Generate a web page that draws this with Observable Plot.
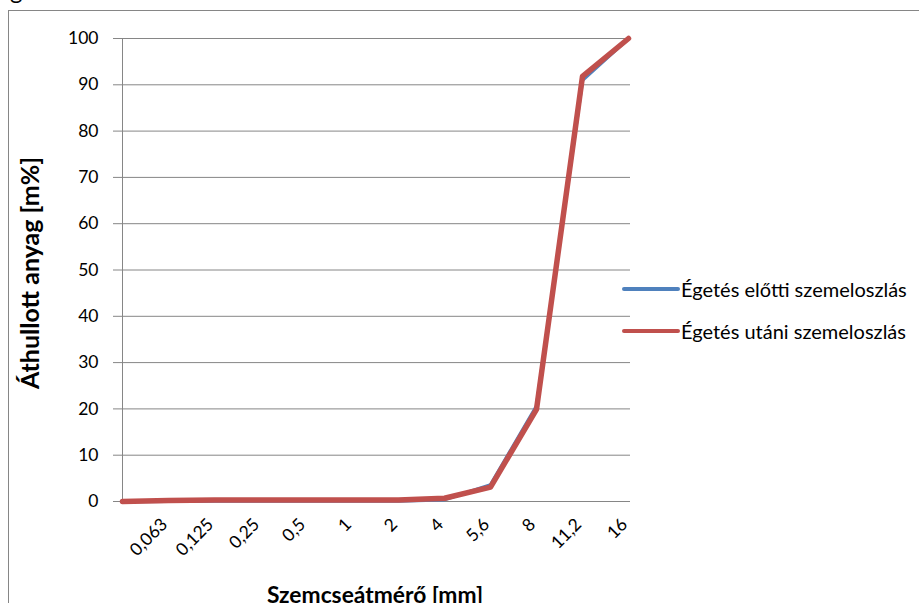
<!DOCTYPE html>
<html>
<head>
<meta charset="utf-8">
<script src="https://cdn.jsdelivr.net/npm/d3@7"></script>
<script src="https://cdn.jsdelivr.net/npm/@observablehq/plot@0.6"></script>
<style>
  html, body { margin: 0; padding: 0; background: #fff; }
  #chart { position: relative; width: 919px; height: 603px; overflow: hidden; font-family: Lato, "Open Sans", sans-serif; }
  #frame { position: absolute; left: 8px; top: 10px; width: 1000px; height: 700px; border-left: 1px solid #868686; border-top: 1px solid #868686; }
  #plot { position: absolute; left: 0; top: 0; }
  .title { position: absolute; font-weight: bold; color: #000; white-space: nowrap; line-height: 1; }
  #ytitle { left: 29px; top: 273px; font-size: 25px; transform: translate(-50%, -50%) rotate(-90deg); }
  #xtitle { left: 375px; top: 594px; font-size: 22.8px; transform: translate(-50%, -50%); }
  #legend { position: absolute; left: 622px; top: 268px; font-size: 20px; }
  .item { display: flex; align-items: center; height: 41.7px; }
  .item svg { display: block; }
  .item span { margin-left: 1px; white-space: nowrap; }
  #cut { position: absolute; left: 0; top: 0; }
</style>
</head>
<body>
<div id="chart">
  <svg id="cut" width="40" height="10"><text x="10" y="-1" font-size="24" font-family="Lato, sans-serif">g</text></svg>
  <div id="frame"></div>
  <div id="plot"></div>
  <div id="ytitle" class="title">Áthullott anyag [m%]</div>
  <div id="xtitle" class="title">Szemcseátmérő [mm]</div>
  <div id="legend"></div>
</div>
<script>
// Sieve sizes (mm); the first position is the pan, left unlabelled
const categories = ["", "0,063", "0,125", "0,25", "0,5", "1", "2", "4", "5,6", "8", "11,2", "16"];
// Cumulative passing (m%) before and after firing
const beforeValues = [0, 0.05, 0.1, 0.1, 0.1, 0.1, 0.1, 0.4, 3.6, 20.6, 91.0, 100];
const afterValues  = [0, 0.2, 0.3, 0.3, 0.3, 0.3, 0.3, 0.7, 3.1, 19.9, 91.8, 100];
const seriesNames  = ["Égetés előtti szemeloszlás", "Égetés utáni szemeloszlás"];
const seriesColors = ["#4F81BD", "#C0504D"];
const seriesWidths = [3.5, 5.5];
const yTicks = [0, 10, 20, 30, 40, 50, 60, 70, 80, 90, 100];

const seriesValues = [beforeValues, afterValues];
const rows = seriesNames.map((name, s) =>
  categories.map((cat, i) => ({cat, series: name, value: seriesValues[s][i]}))
);

const gridColor = "#868686";
const tickFont = "17.5px";

const chart = Plot.plot({
  width: 919,
  height: 603,
  marginLeft: 119,
  marginRight: 289,
  marginTop: 38,
  marginBottom: 102,
  style: {fontFamily: "Lato, 'Open Sans', sans-serif", fontSize: tickFont, color: "#000", background: "transparent"},
  x: {type: "point", domain: categories, padding: 0, axis: null},
  y: {domain: [0, 100], axis: null},
  marks: [
    Plot.ruleY(yTicks, {stroke: gridColor, strokeWidth: 1}),
    Plot.ruleX([categories[0]], {stroke: gridColor, strokeWidth: 1}),
    Plot.axisY({ticks: yTicks, tickSize: 6, tickPadding: 15, label: null, stroke: gridColor, fill: "#000", fontSize: tickFont}),
    Plot.text(categories, {x: d => d, frameAnchor: "bottom", dy: 24, rotate: -45, textAnchor: "end", fontSize: tickFont, fill: "#000"}),
    ...rows.map((data, s) => Plot.line(data, {
      x: "cat", y: "value",
      stroke: seriesColors[s], strokeWidth: seriesWidths[s],
      strokeLinejoin: "round", strokeLinecap: "round"
    }))
  ]
});
document.getElementById("plot").appendChild(chart);

// Legend with line swatches to the right of the plot area
const legend = d3.select("#legend");
seriesNames.forEach((name, s) => {
  const item = legend.append("div").attr("class", "item");
  const sw = item.append("svg").attr("width", 58).attr("height", 10);
  sw.append("line").attr("x1", 2).attr("x2", 56).attr("y1", 5).attr("y2", 5)
    .attr("stroke", seriesColors[s]).attr("stroke-width", 4).attr("stroke-linecap", "round");
  item.append("span").text(name);
});
</script>
</body>
</html>
